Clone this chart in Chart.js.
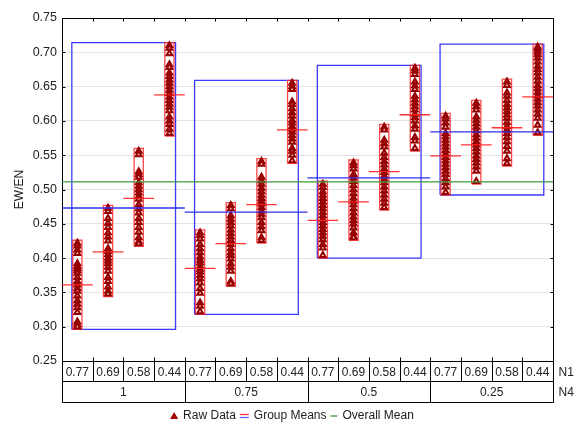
<!DOCTYPE html>
<html lang="en">
<head>
  <meta charset="UTF-8" />
  <title>EW/EN by N1 and N4</title>
  <script src="https://cdn.jsdelivr.net/npm/chart.js"></script>
  <style>
    body { margin: 0; background: #fff; }
    #wrap { width: 578px; height: 426px; }
  </style>
</head>
<body>
  <div id="wrap"><canvas id="chart" width="578" height="426"></canvas></div>
  <script>
    // factor levels
    const n1Labels = ['0.77', '0.69', '0.58', '0.44'];
    const n4Labels = ['1', '0.75', '0.5', '0.25'];

    // raw EW/EN values, one list per N1 level, grouped by N4
    const rawN4_1 = [
      [0.422, 0.418, 0.412, 0.407, 0.392, 0.388, 0.385, 0.382, 0.378, 0.372, 0.366, 0.361, 0.356, 0.352, 0.345, 0.338, 0.333, 0.328, 0.321, 0.307, 0.303, 0.300],
      [0.473, 0.468, 0.458, 0.451, 0.445, 0.437, 0.431, 0.425, 0.414, 0.410, 0.405, 0.400, 0.396, 0.392, 0.387, 0.381, 0.372, 0.366, 0.358, 0.352, 0.348],
      [0.556, 0.551, 0.526, 0.522, 0.518, 0.510, 0.505, 0.500, 0.495, 0.490, 0.486, 0.478, 0.472, 0.466, 0.458, 0.452, 0.445, 0.438, 0.430, 0.424, 0.421],
      [0.710, 0.706, 0.698, 0.682, 0.678, 0.670, 0.665, 0.660, 0.655, 0.650, 0.645, 0.640, 0.635, 0.630, 0.625, 0.620, 0.615, 0.606, 0.600, 0.595, 0.588, 0.582]
    ];
    const rawN4_075 = [
      [0.437, 0.433, 0.428, 0.420, 0.414, 0.408, 0.402, 0.397, 0.393, 0.388, 0.384, 0.380, 0.375, 0.370, 0.364, 0.356, 0.349, 0.335, 0.330, 0.322],
      [0.477, 0.472, 0.462, 0.457, 0.452, 0.447, 0.441, 0.436, 0.431, 0.426, 0.420, 0.414, 0.408, 0.404, 0.399, 0.392, 0.387, 0.381, 0.366, 0.363],
      [0.541, 0.537, 0.518, 0.513, 0.508, 0.502, 0.497, 0.492, 0.487, 0.483, 0.479, 0.474, 0.469, 0.464, 0.459, 0.452, 0.446, 0.440, 0.430, 0.426],
      [0.655, 0.650, 0.646, 0.628, 0.624, 0.618, 0.612, 0.607, 0.601, 0.597, 0.592, 0.588, 0.584, 0.579, 0.574, 0.569, 0.560, 0.556, 0.550, 0.542]
    ];
    const rawN4_05 = [
      [0.508, 0.503, 0.497, 0.492, 0.487, 0.482, 0.477, 0.472, 0.467, 0.462, 0.457, 0.452, 0.447, 0.442, 0.437, 0.432, 0.427, 0.420, 0.415, 0.404],
      [0.539, 0.535, 0.530, 0.522, 0.517, 0.512, 0.506, 0.500, 0.494, 0.488, 0.483, 0.478, 0.472, 0.466, 0.460, 0.455, 0.450, 0.444, 0.437, 0.432, 0.430],
      [0.591, 0.587, 0.572, 0.567, 0.562, 0.553, 0.547, 0.541, 0.536, 0.530, 0.525, 0.520, 0.515, 0.510, 0.504, 0.498, 0.492, 0.486, 0.480, 0.474],
      [0.677, 0.673, 0.668, 0.657, 0.651, 0.646, 0.636, 0.631, 0.626, 0.621, 0.616, 0.610, 0.605, 0.600, 0.593, 0.588, 0.576, 0.571, 0.560]
    ];
    const rawN4_025 = [
      [0.607, 0.603, 0.597, 0.591, 0.582, 0.577, 0.572, 0.567, 0.562, 0.557, 0.552, 0.547, 0.542, 0.537, 0.532, 0.527, 0.522, 0.516, 0.510, 0.504, 0.496],
      [0.626, 0.621, 0.616, 0.606, 0.601, 0.596, 0.591, 0.586, 0.580, 0.575, 0.570, 0.565, 0.560, 0.555, 0.549, 0.544, 0.539, 0.533, 0.527, 0.512],
      [0.657, 0.652, 0.641, 0.636, 0.630, 0.624, 0.619, 0.614, 0.609, 0.604, 0.598, 0.592, 0.587, 0.582, 0.576, 0.570, 0.563, 0.556, 0.545, 0.538],
      [0.708, 0.705, 0.701, 0.697, 0.692, 0.686, 0.680, 0.675, 0.670, 0.664, 0.658, 0.652, 0.647, 0.642, 0.637, 0.632, 0.627, 0.622, 0.616, 0.610, 0.604, 0.594, 0.583]
    ];

    // means
    const cellMeans = [0.361, 0.409, 0.487, 0.638, 0.385, 0.421, 0.478, 0.587, 0.455, 0.482, 0.526, 0.609, 0.549, 0.565, 0.590, 0.635];
    const groupMeans = [0.473, 0.467, 0.517, 0.584];
    const overallMean = 0.511;

    const groups = [rawN4_1, rawN4_075, rawN4_05, rawN4_025];
    const cells = groups.flat();
    const PAD = 0.004;

    function rect(x0, x1, y0, y1) {
      return [{ x: x0, y: y0 }, { x: x1, y: y0 }, { x: x1, y: y1 }, { x: x0, y: y1 }, { x: x0, y: y0 }, { x: x0, y: null }];
    }

    const points = [];
    const redBoxes = [];
    const redMeans = [];
    cells.forEach((vals, i) => {
      vals.forEach(v => points.push({ x: i + 0.5, y: v }));
      redBoxes.push(...rect(i + 0.35, i + 0.65, Math.min(...vals) - PAD, Math.max(...vals) + PAD));
      redMeans.push({ x: i, y: cellMeans[i] }, { x: i + 1, y: cellMeans[i] }, { x: i, y: null });
    });

    const blueBoxes = [];
    const blueMeans = [];
    groups.forEach((g, k) => {
      const all = g.flat();
      blueBoxes.push(...rect(k * 4 + 0.32, k * 4 + 3.7, Math.min(...all) - PAD, Math.max(...all) + PAD));
      blueMeans.push({ x: k * 4, y: groupMeans[k] }, { x: k * 4 + 4, y: groupMeans[k] }, { x: k * 4, y: null });
    });

    const FONT = '"Liberation Sans", Arial, sans-serif';

    const framePlugin = {
      id: 'frame',
      afterDraw(chart) {
        const ctx = chart.ctx;
        const xs = chart.scales.x, ys = chart.scales.y;
        const a = chart.chartArea;
        const L = Math.round(a.left) + 0.5, R = Math.round(a.right) + 0.5;
        const T = Math.round(a.top) + 0.5, B = Math.round(a.bottom) + 0.5;
        ctx.save();
        ctx.strokeStyle = '#000';
        ctx.lineWidth = 1;
        ctx.beginPath();
        // top and right border
        ctx.moveTo(L, T); ctx.lineTo(R, T); ctx.lineTo(R, B);
        // inner ticks top
        for (let k = 1; k < 16; k++) {
          const px = Math.round(xs.getPixelForValue(k)) + 0.5;
          ctx.moveTo(px, T); ctx.lineTo(px, T + 3);
        }
        // inner ticks left/right
        ys.ticks.forEach(t => {
          const py = Math.round(ys.getPixelForValue(t.value)) + 0.5;
          ctx.moveTo(R, py); ctx.lineTo(R - 3, py);
          ctx.moveTo(L, py); ctx.lineTo(L + 3, py);
        });
        // table under the plot
        const mid = B + 20, bot = B + 41;
        ctx.moveTo(L, B); ctx.lineTo(R, B);
        ctx.moveTo(L, mid); ctx.lineTo(R, mid);
        ctx.moveTo(L, bot); ctx.lineTo(R, bot);
        ctx.moveTo(L, B); ctx.lineTo(L, bot);
        ctx.moveTo(R, B); ctx.lineTo(R, bot);
        for (let k = 1; k < 16; k++) {
          const px = Math.round(xs.getPixelForValue(k)) + 0.5;
          ctx.moveTo(px, B - 4);
          ctx.lineTo(px, k % 4 === 0 ? bot : mid);
        }
        ctx.stroke();

        ctx.fillStyle = '#222';
        ctx.font = '12px ' + FONT;
        ctx.textBaseline = 'middle';
        ctx.textAlign = 'center';
        for (let k = 0; k < 16; k++) {
          ctx.fillText(n1Labels[k % 4], xs.getPixelForValue(k + 0.5), B + 11);
        }
        for (let g = 0; g < 4; g++) {
          ctx.fillText(n4Labels[g], xs.getPixelForValue(g * 4 + 2), mid + 11);
        }
        ctx.textAlign = 'left';
        ctx.fillText('N1', R + 5, B + 11);
        ctx.fillText('N4', R + 5, mid + 11);

        // legend
        const ly = 416;
        const items = ['Raw Data', 'Group Means', 'Overall Mean'];
        const mw = [8, 9, 7];
        let total = 0;
        items.forEach((s, i) => { total += mw[i] + 5 + ctx.measureText(s).width + (i < 2 ? 4 : 0); });
        let x = 292 - total / 2;
        items.forEach((s, i) => {
          if (i === 0) {
            ctx.fillStyle = '#a00000';
            ctx.beginPath();
            ctx.moveTo(x + 4, ly - 4); ctx.lineTo(x + 8, ly + 3); ctx.lineTo(x, ly + 3); ctx.closePath();
            ctx.fill();
          } else if (i === 1) {
            ctx.lineWidth = 1.3;
            ctx.strokeStyle = '#ff3030';
            ctx.beginPath(); ctx.moveTo(x, ly - 1.5); ctx.lineTo(x + 9, ly - 1.5); ctx.stroke();
            ctx.strokeStyle = '#6060ff';
            ctx.beginPath(); ctx.moveTo(x, ly + 1.5); ctx.lineTo(x + 9, ly + 1.5); ctx.stroke();
          } else {
            ctx.lineWidth = 1.3;
            ctx.strokeStyle = '#3c9a3c';
            ctx.beginPath(); ctx.moveTo(x, ly); ctx.lineTo(x + 7, ly); ctx.stroke();
          }
          x += mw[i] + 5;
          ctx.fillStyle = '#222';
          ctx.fillText(s, x, ly);
          x += ctx.measureText(s).width + 4;
        });
        ctx.restore();
      }
    };

    const lineSet = (data, color, width, order) => ({
      data, showLine: true, borderColor: color, borderWidth: width,
      pointRadius: 0, spanGaps: false, fill: false, order
    });

    new Chart(document.getElementById('chart'), {
      type: 'scatter',
      data: {
        datasets: [
          lineSet(blueMeans, '#2f2ff0', 1.3, 0),
          lineSet(redMeans, 'rgba(255,30,30,0.9)', 1.3, 1),
          lineSet([{ x: 0, y: overallMean }, { x: 16, y: overallMean }], '#3c9a3c', 1.3, 2),
          {
            data: points, pointStyle: 'triangle', pointRadius: 3.3,
            borderColor: '#960000', borderWidth: 2, backgroundColor: '#f4e4e4', order: 3
          },
          lineSet(redBoxes, 'rgba(255,40,40,0.85)', 1.3, 4),
          lineSet(blueBoxes, '#3a3aff', 1.3, 5)
        ]
      },
      options: {
        responsive: false,
        animation: false,
        layout: { padding: { left: 0, right: 25, top: 18, bottom: 65 } },
        plugins: { legend: { display: false }, tooltip: { enabled: false } },
        scales: {
          x: { type: 'linear', min: 0, max: 16, display: false },
          y: {
            min: 0.25, max: 0.75,
            afterFit(s) { s.width = 62; },
            ticks: {
              stepSize: 0.05, padding: 5, color: '#222',
              font: { size: 12.5, family: FONT },
              callback: v => v.toFixed(2)
            },
            grid: { color: '#e2e2e2', drawTicks: false },
            border: { color: '#000', width: 1 },
            title: {
              display: true, text: 'EW/EN', color: '#222',
              font: { size: 12, family: FONT }, padding: { top: 12, bottom: 0 }
            }
          }
        }
      },
      plugins: [framePlugin]
    });
  </script>
</body>
</html>
